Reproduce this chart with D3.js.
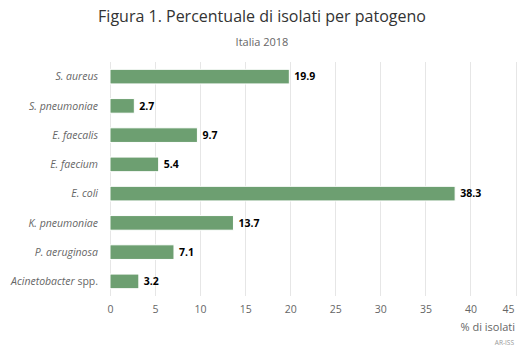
<!DOCTYPE html>
<html>
<head>
<meta charset="utf-8">
<script src="https://cdn.jsdelivr.net/npm/d3@7"></script>
<style>
  html, body { margin: 0; padding: 0; background: #fff; }
  svg { display: block; font-family: "Open Sans", "DejaVu Sans", sans-serif; }
</style>
</head>
<body>
<svg id="chart" width="524" height="349"></svg>
<script>
const categories = ["S. aureus", "S. pneumoniae", "E. faecalis", "E. faecium", "E. coli", "K. pneumoniae", "P. aeruginosa", "Acinetobacter"];
const categorySuffix = ["", "", "", "", "", "", "", " spp."];
const values = [19.9, 2.7, 9.7, 5.4, 38.3, 13.7, 7.1, 3.2];
const xTicks = [0, 5, 10, 15, 20, 25, 30, 35, 40, 45];
const titleText = "Figura 1. Percentuale di isolati per patogeno";
const subtitleText = "Italia 2018";
const axisTitle = "% di isolati";
const creditText = "AR-ISS";

const svg = d3.select("#chart");
const W = 524, H = 349;
const margin = { left: 110, right: 8.5, top: 62, bottom: 53 };

const x = d3.scaleLinear().domain([0, 45]).range([margin.left, W - margin.right]);
const y = d3.scaleBand().domain(d3.range(categories.length))
  .range([margin.top, H - margin.bottom]).paddingInner(0.5).paddingOuter(0.25);

// title
svg.append("text").attr("x", 262).attr("y", 21.5).attr("text-anchor", "middle")
  .attr("font-size", 16).attr("fill", "#333").text(titleText);
svg.append("text").attr("x", 262).attr("y", 46).attr("text-anchor", "middle")
  .attr("font-size", 11).attr("fill", "#666").text(subtitleText);

// grid
svg.append("g").selectAll("line").data(xTicks).join("line")
  .attr("x1", d => Math.round(x(d)) + 0.5).attr("x2", d => Math.round(x(d)) + 0.5)
  .attr("y1", margin.top).attr("y2", H - margin.bottom)
  .attr("stroke", "#e6e6e6").attr("stroke-width", 1);

// x axis labels
const xAxis = d3.axisBottom(x).tickValues(xTicks).tickSize(0).tickPadding(0);
const gx = svg.append("g").attr("transform", `translate(0,${H - margin.bottom})`).call(xAxis);
gx.select(".domain").remove();
gx.selectAll("text").attr("font-size", 10.5).attr("fill", "#666")
  .attr("font-family", "'Open Sans', sans-serif")
  .attr("dy", 0).attr("y", 17);
gx.selectAll("text").filter(d => d === 45).attr("text-anchor", "end")
  .attr("x", (W - 10) - x(45));

// bars
svg.append("g").selectAll("rect").data(values).join("rect")
  .attr("x", x(0)).attr("y", (d, i) => y(i))
  .attr("width", d => x(d) - x(0)).attr("height", y.bandwidth())
  .attr("fill", "#6d9f71").attr("stroke", "#fff").attr("stroke-width", 1);

// value labels
svg.append("g").selectAll("text").data(values).join("text")
  .attr("x", d => x(d) + 5).attr("y", (d, i) => y(i) + y.bandwidth() / 2)
  .attr("dy", "0.35em").attr("font-size", 10.5).attr("font-weight", "bold")
  .attr("fill", "#000").text(d => d3.format(".1f")(d));

// category labels
const gy = svg.append("g");
categories.forEach((c, i) => {
  const t = gy.append("text").attr("x", 98).attr("y", y(i) + y.bandwidth() / 2)
    .attr("dy", "0.35em").attr("text-anchor", "end").attr("font-size", 10.5).attr("fill", "#666");
  t.append("tspan").attr("font-style", "italic").text(c);
  if (categorySuffix[i]) t.append("tspan").text(categorySuffix[i]);
});

// axis title
svg.append("text").attr("x", 515).attr("y", 331).attr("text-anchor", "end")
  .attr("font-size", 11).attr("fill", "#666").text(axisTitle);
svg.append("text").attr("x", 514).attr("y", 345).attr("text-anchor", "end")
  .attr("font-size", 6.5).attr("fill", "#999").text(creditText);
</script>
</body>
</html>
